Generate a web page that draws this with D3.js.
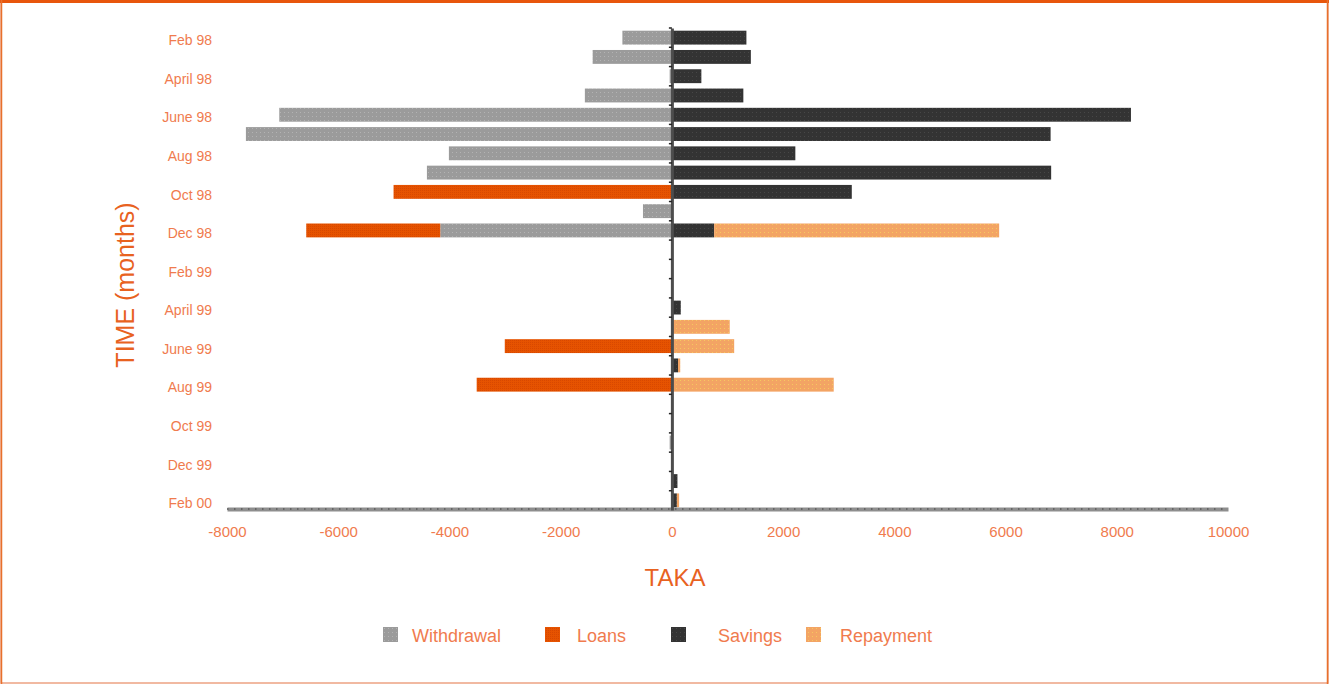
<!DOCTYPE html>
<html>
<head>
<meta charset="utf-8">
<script src="https://cdn.jsdelivr.net/npm/d3@7/dist/d3.min.js"></script>
<style>
  html, body { margin: 0; padding: 0; background: #fff; }
  svg { display: block; font-family: "Liberation Sans", Arial, sans-serif; }
</style>
</head>
<body>
<svg id="chart" width="1329" height="684"></svg>
<script>
const months = ["Feb 98","Mar 98","Apr 98","May 98","Jun 98","Jul 98","Aug 98","Sep 98","Oct 98","Nov 98","Dec 98",
  "Jan 99","Feb 99","Mar 99","Apr 99","May 99","Jun 99","Jul 99","Aug 99","Sep 99","Oct 99","Nov 99","Dec 99","Jan 00","Feb 00"];
const monthLabels = ["Feb 98","","April 98","","June 98","","Aug 98","","Oct 98","","Dec 98",
  "","Feb 99","","April 99","","June 99","","Aug 99","","Oct 99","","Dec 99","","Feb 00"];
const withdrawal = [-890,-1425,-40,-1565,-7060,-7660,-4010,-4405,0,-520,-4165,0,0,0,0,0,0,0,0,0,0,-40,0,0,0];
const loans      = [0,0,0,0,0,0,0,0,-5005,0,-2410,0,0,0,0,0,-3005,0,-3510,0,0,0,0,0,0];
const savings    = [1340,1420,530,1285,8255,6810,2220,6820,3235,0,760,0,0,0,160,0,0,110,0,0,0,0,0,100,90];
const repayment  = [0,0,0,0,0,0,0,0,0,0,5125,0,0,0,0,1040,1120,40,2910,0,0,0,0,0,40];
const xTicks = [-8000,-6000,-4000,-2000,0,2000,4000,6000,8000,10000];
const seriesNames = ["Withdrawal","Loans","Savings","Repayment"];

const colors = { Withdrawal: "#9b9b9b", Loans: "#e65300", Savings: "#333333", Repayment: "#f3a464" };
const labelColor = "#f07b4e";
const titleColor = "#e8621f";

const svg = d3.select("#chart");
const W = 1329, H = 684;

// frame
svg.append("rect").attr("x", 1).attr("y", 1).attr("width", W - 2).attr("height", H - 2)
  .attr("fill", "none").attr("stroke", "#eda283").attr("stroke-width", 1.5);
svg.append("rect").attr("x", 0).attr("y", 0).attr("width", W).attr("height", 3).attr("fill", "#e8560c");
svg.append("line").attr("x1", 1.5).attr("x2", 1.5).attr("y1", 0).attr("y2", H).attr("stroke", "#e8702c").attr("stroke-width", 1.5);
svg.append("line").attr("x1", W - 1.5).attr("x2", W - 1.5).attr("y1", 0).attr("y2", H).attr("stroke", "#e8702c").attr("stroke-width", 1.5);

// patterns
const defs = svg.append("defs");
function dotPattern(id, base, dot, size) {
  const p = defs.append("pattern").attr("id", id).attr("patternUnits", "userSpaceOnUse")
    .attr("width", size).attr("height", size);
  p.append("rect").attr("width", size).attr("height", size).attr("fill", base);
  p.append("rect").attr("x", 0).attr("y", 0).attr("width", 1).attr("height", 1).attr("fill", dot);
}
dotPattern("pW", colors.Withdrawal, "#b3b3b3", 4);
dotPattern("pL", colors.Loans, "#d84800", 2);
dotPattern("pS", colors.Savings, "#474747", 4);
dotPattern("pR", colors.Repayment, "#f6c860", 4);
const fills = { Withdrawal: "url(#pW)", Loans: "url(#pL)", Savings: "url(#pS)", Repayment: "url(#pR)" };

const x = d3.scaleLinear().domain([-8000, 10000]).range([227, 1228]);
const y = d3.scaleBand().domain(months).range([28, 510]).paddingInner(0.28).paddingOuter(0.14);

const table = months.map((m, i) => ({
  month: m, Withdrawal: withdrawal[i], Loans: loans[i], Savings: savings[i], Repayment: repayment[i]
}));
const stacked = d3.stack().keys(seriesNames).offset(d3.stackOffsetDiverging)(table);

const gBars = svg.append("g");
stacked.forEach(layer => {
  gBars.append("g").selectAll("rect").data(layer.filter(d => d[1] !== d[0])).join("rect")
    .attr("x", d => x(Math.min(d[0], d[1])))
    .attr("width", d => Math.abs(x(d[1]) - x(d[0])))
    .attr("y", d => y(d.data.month))
    .attr("height", y.bandwidth())
    .attr("fill", fills[layer.key]);
});

// bottom axis
const xAxis = d3.axisBottom(x).tickValues(xTicks).tickSize(0).tickPadding(17).tickFormat(d => String(d));
const gx = svg.append("g").attr("transform", "translate(0,509)").call(xAxis);
gx.select(".domain").attr("stroke", "#8e8e8e").attr("stroke-width", 4);
gx.selectAll("text").attr("fill", labelColor).attr("font-size", 15)
  .attr("font-family", "'Liberation Sans', Arial, sans-serif");
svg.append("line").attr("x1", x(-8000)).attr("x2", x(10000)).attr("y1", 509).attr("y2", 509)
  .attr("stroke", "#5a5a5a").attr("stroke-width", 1.5).attr("stroke-dasharray", "1.5,5.5");

// vertical zero axis
const yAxis = d3.axisLeft(y).tickSize(0).tickFormat("");
const gy = svg.append("g").attr("transform", `translate(${x(0)},0)`).call(yAxis);
gy.select(".domain").attr("stroke", "#4d4d4d").attr("stroke-width", 3);
gy.selectAll(".tick").remove();
const step = y.step();
const boundaries = months.map((m, i) => y(m) - y.paddingInner() * step / 2);
svg.append("g").selectAll("line").data(boundaries).join("line")
  .attr("x1", x(0) - 3).attr("x2", x(0)).attr("y1", d => d).attr("y2", d => d)
  .attr("stroke", "#222").attr("stroke-width", 1.5);

// month labels on left
svg.append("g").selectAll("text").data(months.map((m, i) => ({ m, label: monthLabels[i] })).filter(d => d.label))
  .join("text")
  .attr("x", 212)
  .attr("y", d => y(d.m) + y.bandwidth() / 2 + 4)
  .attr("text-anchor", "end")
  .attr("dominant-baseline", "middle")
  .attr("fill", labelColor)
  .attr("font-size", 14)
  .text(d => d.label);

// axis titles
svg.append("text").attr("transform", "translate(134,285) rotate(-90)")
  .attr("text-anchor", "middle").attr("fill", titleColor).attr("font-size", 25)
  .text("TIME (months)");
svg.append("text").attr("x", 675).attr("y", 586)
  .attr("text-anchor", "middle").attr("fill", titleColor).attr("font-size", 24)
  .text("TAKA");

// legend
const legendItems = [
  { name: "Withdrawal", sx: 383, tx: 412 },
  { name: "Loans", sx: 545, tx: 577 },
  { name: "Savings", sx: 671, tx: 718 },
  { name: "Repayment", sx: 806, tx: 840 }
];
const gl = svg.append("g");
legendItems.forEach(it => {
  gl.append("rect").attr("x", it.sx).attr("y", 627).attr("width", 15).attr("height", 15)
    .attr("fill", fills[it.name]);
  gl.append("text").attr("x", it.tx).attr("y", 637).attr("dominant-baseline", "middle")
    .attr("fill", labelColor).attr("font-size", 18).text(it.name);
});
</script>
</body>
</html>
